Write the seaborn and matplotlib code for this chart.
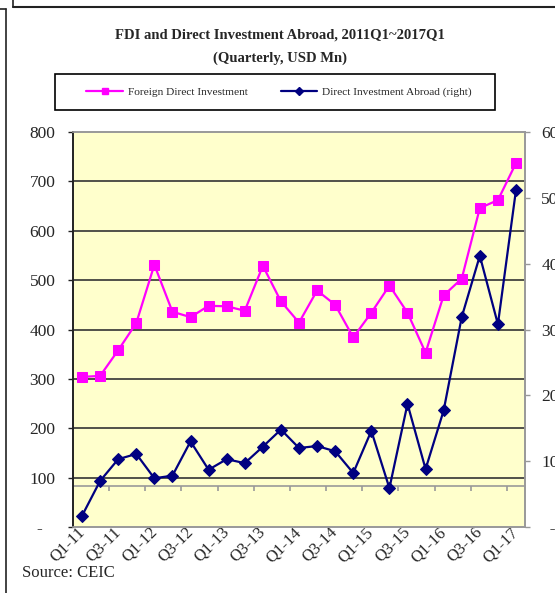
import numpy as np
import pandas as pd
import matplotlib
matplotlib.use("Agg")
import matplotlib.pyplot as plt
import seaborn as sns
from matplotlib.patches import Rectangle
from matplotlib.lines import Line2D

# Data (USD Mn)
quarters = ["Q1-11", "Q2-11", "Q3-11", "Q4-11", "Q1-12", "Q2-12", "Q3-12", "Q4-12",
            "Q1-13", "Q2-13", "Q3-13", "Q4-13", "Q1-14", "Q2-14", "Q3-14", "Q4-14",
            "Q1-15", "Q2-15", "Q3-15", "Q4-15", "Q1-16", "Q2-16", "Q3-16", "Q4-16",
            "Q1-17"]
fdi = [304, 306, 358, 413, 531, 436, 425, 448, 447, 438, 529, 457,
       414, 479, 450, 384, 434, 489, 434, 353, 469, 503, 646, 662, 737]
abroad = [17, 70, 103, 111, 74, 78, 130, 87, 103, 97, 122, 148,
          120, 123, 115, 82, 146, 59, 187, 88, 177, 319, 412, 308, 512]
left_ticks = [0, 100, 200, 300, 400, 500, 600, 700, 800]
right_ticks = [0, 100, 200, 300, 400, 500, 600]

df = pd.DataFrame({"idx": np.arange(len(quarters)), "quarter": quarters,
                   "fdi": fdi, "abroad": abroad})

sns.set_style("white")
plt.rcParams['font.family'] = ['Liberation Serif', 'DejaVu Serif']

fig = plt.figure(figsize=(5.55, 5.93), dpi=100)
ax = fig.add_axes([0.1315, 0.1113, 0.8145, 0.6661])
ax.set_facecolor("#FFFFCC")

# grid lines on left axis
for v in left_ticks[1:-1]:
    ax.axhline(v, color="#333333", lw=1.2, zorder=1)

# gray category axis line with boundary ticks
ax.axhline(83, color="#999999", lw=1.2, zorder=1)
ax.vlines(np.arange(1.5, 24, 2), 73, 83, color="#999999", lw=1.2, zorder=1)

sns.lineplot(data=df, x="idx", y="fdi", ax=ax, color="#FF00FF", marker="s",
             markersize=7, markeredgecolor="#FF00FF", linewidth=1.6, zorder=3)
ax.set_xlim(-0.5, 24.5)
ax.set_ylim(0, 800)

ax2 = ax.twinx()
sns.lineplot(data=df, x="idx", y="abroad", ax=ax2, color="#000080", marker="D",
             markersize=6.5, markeredgecolor="#000080", linewidth=1.6, zorder=3)
ax2.set_ylim(0, 600)
ax2.set_xlim(-0.5, 24.5)

ax.set_yticks(left_ticks)
ax.set_yticklabels(["-   "] + [str(v) for v in left_ticks[1:]], fontsize=12.5)
ax2.set_yticks(right_ticks)
ax2.set_yticklabels(["  -"] + [str(v) for v in right_ticks[1:]], fontsize=12.5)
ax.tick_params(axis="y", direction="out", length=3.6, width=1, color="#222222", pad=9, left=True)
ax2.tick_params(axis="y", direction="out", length=3.6, width=1, color="#999999", pad=8, right=True)

ax.set_xticks(df["idx"][::2])
ax.set_xticklabels(df["quarter"][::2], rotation=45, ha="right", va="center",
                   rotation_mode="anchor", fontsize=12)
ax.tick_params(axis="x", length=0, pad=2)
ax2.tick_params(axis="x", length=0)

ax.set_xlabel("")
ax.set_ylabel("")
ax2.set_ylabel("")

for a in (ax, ax2):
    for side in ["top", "right", "bottom"]:
        a.spines[side].set_color("#999999")
        a.spines[side].set_linewidth(1.2)
    a.spines["left"].set_color("#222222")
    a.spines["left"].set_linewidth(1.2)

# titles
fig.text(0.505, 0.941, "FDI and Direct Investment Abroad, 2011Q1~2017Q1",
         ha="center", va="center", fontsize=10.5, fontweight="bold")
fig.text(0.505, 0.902, "(Quarterly, USD Mn)", ha="center", va="center",
         fontsize=10.5, fontweight="bold")

# legend box
fig.patches.append(Rectangle((55 / 555, 1 - 110 / 593), 440 / 555, 36 / 593,
                             transform=fig.transFigure, fill=False,
                             edgecolor="black", lw=1.2))
handles = [Line2D([], [], color="#FF00FF", marker="s", markersize=5, lw=1.6),
           Line2D([], [], color="#000080", marker="D", markersize=4.5, lw=1.6)]
fig.legend(handles, ["Foreign Direct Investment", "Direct Investment Abroad (right)"],
           loc="center", bbox_to_anchor=(0.503, 1 - 92 / 593), ncol=2,
           frameon=False, fontsize=8.2, handlelength=3.2, handletextpad=0.45,
           columnspacing=2.9)

fig.text(22 / 555, 1 - 573 / 593, "Source: CEIC", ha="left", va="center", fontsize=12)

# outer frame lines
fig.add_artist(Line2D([13 / 555, 1], [1 - 7 / 593, 1 - 7 / 593], color="#222222", lw=1.5))
fig.add_artist(Line2D([13 / 555, 13 / 555], [1, 1 - 7 / 593], color="#222222", lw=1.2))
fig.add_artist(Line2D([6 / 555, 6 / 555], [0, 1 - 9 / 593], color="#222222", lw=1.2))
fig.add_artist(Line2D([0, 6 / 555], [1 - 9 / 593, 1 - 9 / 593], color="#222222", lw=1.2))

fig.savefig("out.png", dpi=100)
